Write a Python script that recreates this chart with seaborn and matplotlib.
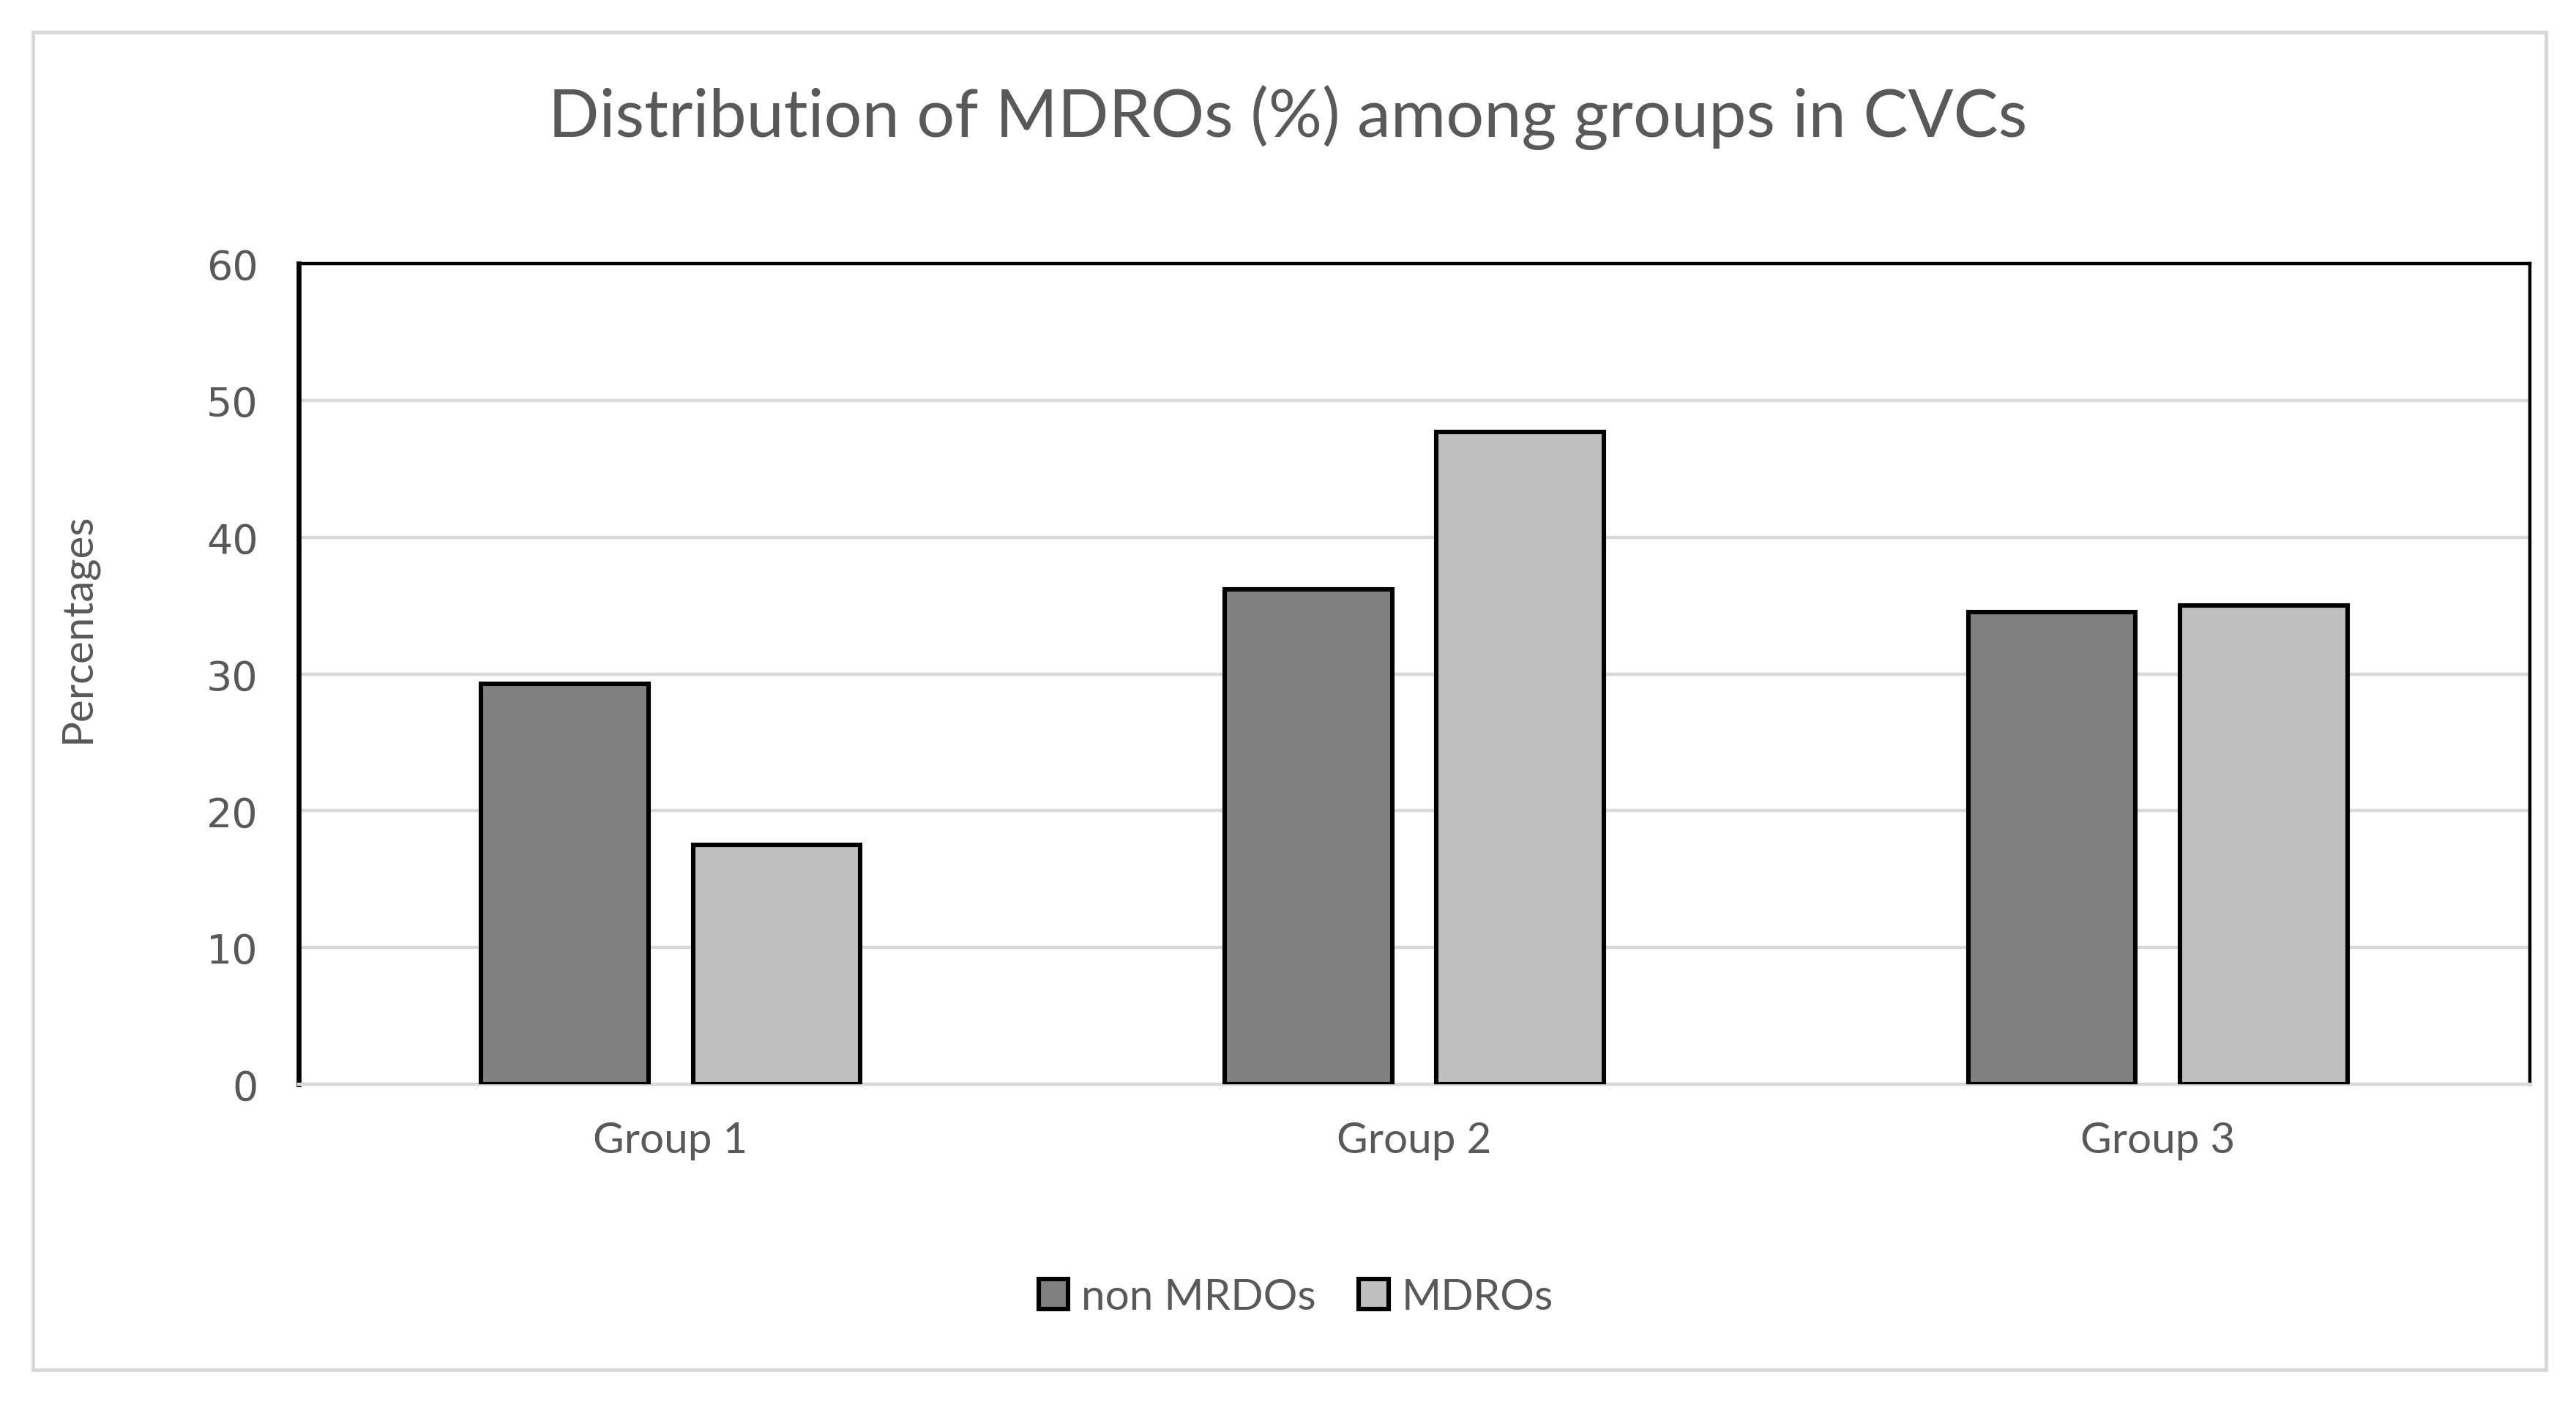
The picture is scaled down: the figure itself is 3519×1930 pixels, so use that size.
import matplotlib
matplotlib.use("Agg")
import matplotlib.pyplot as plt
import seaborn as sns
import pandas as pd
from matplotlib.patches import Rectangle, Patch

groups = ["Group 1", "Group 2", "Group 3"]
series = ["non MRDOs", "MDROs"]
non_mrdos = [29.3, 36.2, 34.5]
mdros = [17.5, 47.7, 35.0]
y_ticks = [0, 10, 20, 30, 40, 50, 60]

df = pd.DataFrame({
    "Group": groups * 2,
    "Series": [series[0]] * 3 + [series[1]] * 3,
    "Value": non_mrdos + mdros,
})

sns.set_theme(style="white")
plt.rcParams["font.family"] = ["Lato", "DejaVu Sans"]
TXT = "#595959"

fig = plt.figure(figsize=(17.595, 9.655), dpi=200)
ax = fig.add_axes([0.116, 0.2325, 0.866, 0.5805])

sns.barplot(data=df, x="Group", y="Value", hue="Series", order=groups,
            hue_order=series, palette=["#808080", "#bfbfbf"], width=0.57,
            gap=0.21, edgecolor="black", linewidth=2.2, ax=ax, legend=False,
            zorder=3)

ax.set_ylim(0, 60)
ax.set_xlim(-0.5, 2.5)
ax.set_yticks(y_ticks)
ax.set_yticklabels([str(t) for t in y_ticks], color=TXT, fontsize=20,
                   family=["DejaVu Sans"])
ax.yaxis.grid(True, color="#d9d9d9", linewidth=1.6, zorder=0)
ax.set_axisbelow(True)
ax.tick_params(axis="y", length=0, pad=20)
ax.tick_params(axis="x", which="major", length=0, pad=18, labelsize=21,
               labelcolor=TXT)
ax.set_xticks([-0.5, 0.5, 1.5, 2.5], minor=True)
ax.tick_params(axis="x", which="minor", length=8, width=1.6, color="#d9d9d9",
               direction="out")
ax.set_xlabel("")
ax.set_ylabel("Percentages", color=TXT, fontsize=21, va="center")
ax.yaxis.set_label_coords(-0.099, 0.557)

for s in ["top", "right"]:
    ax.spines[s].set_color("black")
    ax.spines[s].set_linewidth(1.6)
ax.spines["left"].set_color("black")
ax.spines["left"].set_linewidth(2.4)
ax.spines["bottom"].set_color("#d9d9d9")
ax.spines["bottom"].set_linewidth(1.6)

fig.text(0.5, 0.917, "Distribution of MDROs (%) among groups in CVCs",
         ha="center", va="center", fontsize=33, color=TXT)

handles = [Patch(facecolor=c, edgecolor="black", linewidth=2.2)
           for c in ["#808080", "#bfbfbf"]]
leg = fig.legend(handles, series, loc="center", bbox_to_anchor=(0.503, 0.082),
                 ncol=2, frameon=False, fontsize=21, handlelength=0.7,
                 handleheight=0.7, handletextpad=0.3, columnspacing=1.0)
for t in leg.get_texts():
    t.set_color(TXT)

fig.patches.append(Rectangle((20 / 1560, 1 - 830 / 856),
                             (1542 - 20) / 1560, (830 - 20) / 856,
                             transform=fig.transFigure, fill=False,
                             edgecolor="#d9d9d9", linewidth=1.8))

fig.savefig("out.png", dpi=200)
